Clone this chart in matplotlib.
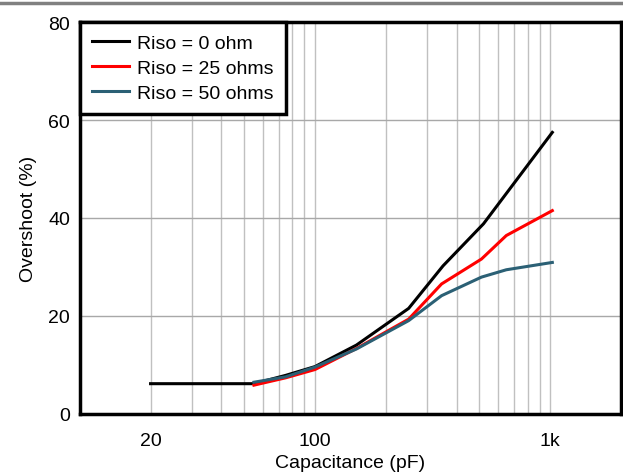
import numpy as np
import matplotlib.pyplot as plt
from matplotlib.ticker import FixedLocator, NullFormatter
from matplotlib.lines import Line2D

# donnees
cap_0 = [20, 55, 75, 100, 150, 250, 350, 520, 1020]
ovs_0 = [6.1, 6.1, 7.8, 9.6, 14.0, 21.5, 30.2, 38.8, 57.5]

cap_25 = [55, 75, 100, 150, 250, 345, 510, 650, 1020]
ovs_25 = [5.8, 7.3, 9.0, 13.3, 19.3, 26.5, 31.6, 36.4, 41.5]

cap_50 = [55, 75, 100, 150, 250, 345, 510, 650, 1020]
ovs_50 = [6.4, 7.5, 9.5, 13.2, 19.0, 24.1, 27.9, 29.4, 30.9]

noms = ["Riso = 0 ohm", "Riso = 25 ohms", "Riso = 50 ohms"]
x_ticks = [20, 100, 1000]
x_labels = ["20", "100", "1k"]
x_grid = [20, 30, 40, 50, 60, 70, 80, 90, 100, 200, 300, 400, 500, 600, 700, 800, 900, 1000]
y_ticks = [0, 20, 40, 60, 80]

plt.rcParams['font.family'] = ['Liberation Sans', 'DejaVu Sans']
FS = 14

fig = plt.figure(figsize=(6.23, 4.77), dpi=100)
ax = fig.add_axes([0.128, 0.131, 0.869, 0.820])

ax.plot(cap_0, ovs_0, color="black", lw=2.2, label=noms[0], zorder=3)
ax.plot(cap_25, ovs_25, color="#ff0000", lw=2.2, label=noms[1], zorder=3)
ax.plot(cap_50, ovs_50, color="#2b6075", lw=2.2, label=noms[2], zorder=4)

ax.set_xscale("log")
ax.set_xlim(10, 2000)
ax.set_ylim(0, 80)

ax.xaxis.set_major_locator(FixedLocator(x_ticks))
ax.set_xticklabels(x_labels)
ax.xaxis.set_minor_locator(FixedLocator(x_grid))
ax.xaxis.set_minor_formatter(NullFormatter())
ax.set_yticks(y_ticks)

ax.grid(True, which="both", axis="x", color="#c0c0c0", lw=1.0)
ax.grid(True, which="major", axis="y", color="#a8a8a8", lw=1.0)
ax.set_axisbelow(True)

ax.tick_params(which="both", length=0, labelsize=FS)
ax.tick_params(axis="x", pad=13)
ax.tick_params(axis="y", pad=7)

for s in ax.spines.values():
    s.set_linewidth(2.5)
    s.set_color("black")

ax.set_xlabel("Capacitance (pF)", fontsize=FS, labelpad=4)
ax.set_ylabel("Overshoot (%)", fontsize=FS, labelpad=8)

leg = ax.legend(loc="upper left", bbox_to_anchor=(0, 1), borderaxespad=0,
                fancybox=False, framealpha=1, edgecolor="black",
                fontsize=FS, handlelength=1.9, handletextpad=0.45,
                labelspacing=0.38, borderpad=0.62)
leg.get_frame().set_linewidth(2.5)

# ligne grise en haut de la page
fig.add_artist(Line2D([0, 1], [0.991, 0.991], color="#808080", lw=2.5,
                      transform=fig.transFigure))

plt.savefig("out.png", dpi=100)
